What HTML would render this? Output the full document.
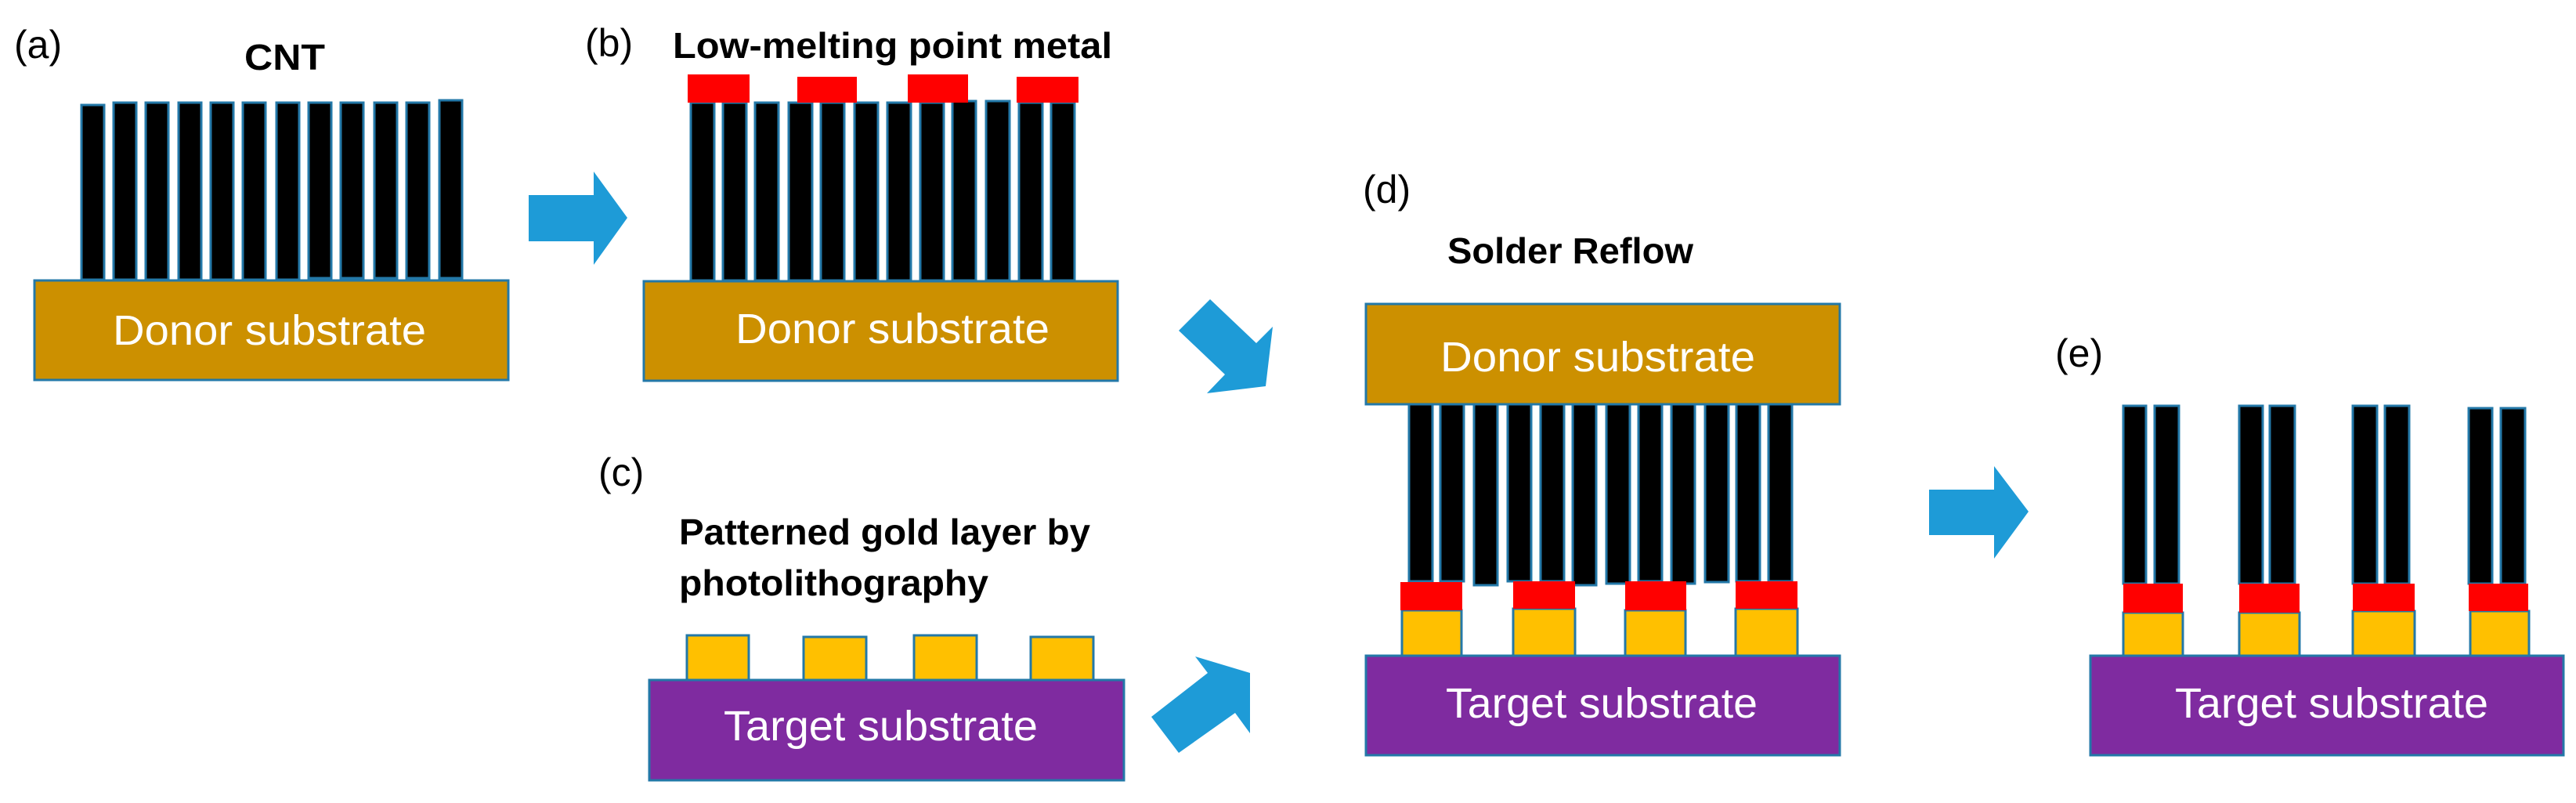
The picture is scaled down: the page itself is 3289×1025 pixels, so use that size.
<!DOCTYPE html>
<html><head><meta charset="utf-8"><style>
html,body{margin:0;padding:0;background:#fff;}
svg{display:block;}
text{font-family:"Liberation Sans",sans-serif;}
</style></head><body>
<svg width="3289" height="1025" viewBox="0 0 3289 1025" xmlns="http://www.w3.org/2000/svg">
<g stroke="#2378a8" stroke-width="3">
<!-- (a) tubes -->
<g fill="#000">
<rect x="104" y="134" width="29" height="223"/><rect x="145" y="131" width="29" height="226"/>
<rect x="186" y="131" width="29" height="226"/><rect x="228" y="131" width="29" height="226"/>
<rect x="269" y="131" width="29" height="226"/><rect x="310" y="131" width="29" height="226"/>
<rect x="353" y="131" width="29" height="226"/><rect x="394" y="131" width="29" height="224"/>
<rect x="435" y="131" width="29" height="224"/><rect x="478" y="131" width="29" height="224"/>
<rect x="519" y="131" width="29" height="224"/><rect x="561" y="128" width="29" height="227"/>
</g>
<rect x="44" y="358" width="605" height="127" fill="#CC9000"/>
<!-- (b) tubes -->
<g fill="#000">
<rect x="882" y="131" width="30" height="227"/><rect x="923" y="131" width="30" height="227"/>
<rect x="964" y="131" width="30" height="227"/><rect x="1007" y="131" width="30" height="227"/>
<rect x="1048" y="131" width="30" height="227"/><rect x="1091" y="131" width="30" height="227"/>
<rect x="1133" y="131" width="30" height="227"/><rect x="1175" y="131" width="30" height="227"/>
<rect x="1216" y="129" width="30" height="229"/><rect x="1259" y="129" width="30" height="229"/>
<rect x="1301" y="131" width="30" height="227"/><rect x="1342" y="131" width="30" height="227"/>
</g>
<rect x="822" y="359" width="605" height="127" fill="#CC9000"/>
</g>
<g fill="#FF0000">
<rect x="878" y="95" width="79" height="36"/><rect x="1018" y="98" width="76" height="33"/>
<rect x="1159" y="95" width="77" height="36"/><rect x="1298" y="98" width="79" height="33"/>
</g>
<!-- (c) -->
<g stroke="#2378a8" stroke-width="3">
<g fill="#FFC000">
<rect x="877" y="811" width="79" height="57"/><rect x="1026" y="813" width="80" height="55"/>
<rect x="1167" y="811" width="80" height="57"/><rect x="1316" y="813" width="80" height="55"/>
</g>
<rect x="829" y="868" width="606" height="128" fill="#7F2BA0"/>
<!-- (d) -->
<rect x="1744" y="388" width="605" height="128" fill="#CC9000"/>
<g fill="#000">
<rect x="1799" y="516" width="30" height="226"/><rect x="1839" y="516" width="30" height="226"/>
<rect x="1882" y="516" width="30" height="231"/><rect x="1925" y="516" width="30" height="226"/>
<rect x="1967" y="516" width="30" height="226"/><rect x="2008" y="516" width="30" height="231"/>
<rect x="2051" y="516" width="30" height="229"/><rect x="2092" y="516" width="30" height="226"/>
<rect x="2134" y="516" width="30" height="229"/><rect x="2177" y="516" width="30" height="227"/>
<rect x="2217" y="516" width="30" height="226"/><rect x="2258" y="516" width="30" height="226"/>
</g>
<g fill="#FFC000">
<rect x="1790" y="779" width="76" height="58"/><rect x="1932" y="777" width="79" height="60"/>
<rect x="2075" y="779" width="77" height="58"/><rect x="2216" y="777" width="79" height="60"/>
</g>
<rect x="1744" y="837" width="605" height="127" fill="#7F2BA0"/>
<!-- (e) -->
<g fill="#000">
<rect x="2711" y="518" width="29" height="227"/><rect x="2751" y="518" width="31" height="227"/>
<rect x="2859" y="518" width="30" height="227"/><rect x="2898" y="518" width="32" height="227"/>
<rect x="3004" y="518" width="31" height="227"/><rect x="3045" y="518" width="31" height="227"/>
<rect x="3152" y="521" width="30" height="224"/><rect x="3193" y="521" width="31" height="224"/>
</g>
<g fill="#FFC000">
<rect x="2711" y="782" width="76" height="55"/><rect x="2859" y="782" width="77" height="55"/>
<rect x="3004" y="780" width="79" height="57"/><rect x="3154" y="780" width="75" height="57"/>
</g>
<rect x="2669" y="837" width="604" height="127" fill="#7F2BA0"/>
</g>
<g fill="#FF0000">
<rect x="1788" y="743" width="79" height="36"/><rect x="1932" y="742" width="79" height="35"/>
<rect x="2075" y="742" width="78" height="37"/><rect x="2216" y="742" width="79" height="35"/>
<rect x="2711" y="745" width="76" height="37"/><rect x="2859" y="745" width="77" height="37"/>
<rect x="3004" y="745" width="79" height="35"/><rect x="3152" y="745" width="76" height="35"/>
</g>
<!-- arrows -->
<g fill="#1E9BD7">
<polygon points="675,249 758,249 758,219 801,278 758,338 758,308 675,308"/>
<polygon points="2463,625 2546,625 2546,595 2590,653 2546,713 2546,683 2463,683"/>
<polygon points="1505,422 1545,382 1604,438 1625,417 1616,493 1541,502 1564,478"/>
<polygon points="1470,915 1542,859 1526,838 1596,859 1596,936 1577,910 1505,961"/>
</g>
<!-- text -->
<g font-size="50" fill="#000">
<text x="18" y="74">(a)</text>
<text x="747" y="72">(b)</text>
<text x="764" y="620">(c)</text>
<text x="1740" y="259">(d)</text>
<text x="2624" y="468">(e)</text>
</g>
<g font-size="46" font-weight="bold" fill="#000">
<text x="312" y="89" textLength="103" lengthAdjust="spacingAndGlyphs">CNT</text>
<text x="859" y="74" textLength="561" lengthAdjust="spacingAndGlyphs">Low-melting point metal</text>
<text x="1848" y="336" textLength="314" lengthAdjust="spacingAndGlyphs">Solder Reflow</text>
<text x="867" y="695" textLength="525" lengthAdjust="spacingAndGlyphs">Patterned gold layer by</text>
<text x="867" y="760" textLength="395" lengthAdjust="spacingAndGlyphs">photolithography</text>
</g>
<g font-size="54" fill="#fff">
<text x="144" y="440" textLength="400" lengthAdjust="spacingAndGlyphs">Donor substrate</text>
<text x="939" y="438" textLength="401" lengthAdjust="spacingAndGlyphs">Donor substrate</text>
<text x="1839" y="474" textLength="402" lengthAdjust="spacingAndGlyphs">Donor substrate</text>
<text x="924" y="945" textLength="401" lengthAdjust="spacingAndGlyphs">Target substrate</text>
<text x="1846" y="916" textLength="398" lengthAdjust="spacingAndGlyphs">Target substrate</text>
<text x="2777" y="916" textLength="400" lengthAdjust="spacingAndGlyphs">Target substrate</text>
</g>
</svg>
</body></html>
